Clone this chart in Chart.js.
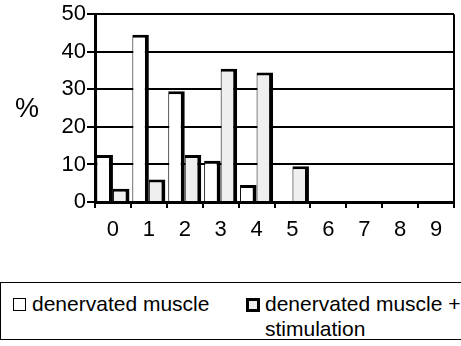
<!DOCTYPE html>
<html>
<head>
<meta charset="utf-8">
<script src="https://cdn.jsdelivr.net/npm/chart.js@4/dist/chart.umd.min.js"></script>
<style>
  html,body{margin:0;padding:0;background:#fff;}
  body{width:461px;height:346px;position:relative;overflow:hidden;font-family:"Liberation Sans",Arial,sans-serif;color:#000;}
  #chart{position:absolute;left:0;top:0;}
  #ylab{position:absolute;left:15px;top:93px;font-size:27px;line-height:30px;}
  .legend{position:absolute;left:0;top:282px;width:463px;height:58px;border:1.5px solid #000;box-sizing:border-box;font-size:21px;}
  .item{position:absolute;top:10px;line-height:25px;}
  .box{position:absolute;left:0;top:5px;width:11px;height:11px;border:1.5px solid #000;background:#fff;}
  .box.b2{border:3px solid #000;width:8px;height:8px;background:#eee;}
  .txt{position:absolute;left:19px;top:-2px;white-space:nowrap;}
</style>
</head>
<body>
<canvas id="chart" width="461" height="280"></canvas>
<div id="ylab">%</div>
<div class="legend">
  <div class="item" style="left:12px"><span class="box"></span><span class="txt">denervated muscle</span></div>
  <div class="item" style="left:245px"><span class="box b2"></span><span class="txt">denervated muscle +<br>stimulation</span></div>
</div>
<script>
/* DATA */
const categories = ['0','1','2','3','4','5','6','7','8','9'];
const denervated = [12.5, 44.5, 29.5, 11, 4.5, 0, 0, 0, 0, 0];
const stimulated = [3.5, 6, 12.5, 35.5, 34.5, 9.5, 0, 0, 0, 0];
const yTicks = [0, 10, 20, 30, 40, 50];

const FONT = {family:'"Liberation Sans", Arial, sans-serif', size:22};

/* right edge of the plot frame */
const frame = {
  id:'frame',
  afterDraw(chart){
    const a = chart.chartArea, c = chart.ctx;
    c.save();
    c.strokeStyle = '#000';
    c.lineWidth = 2;
    c.beginPath();
    c.moveTo(a.right, a.top);
    c.lineTo(a.right, a.bottom);
    c.stroke();
    c.restore();
  }
};

const barBorder = {left:1, top:3, right:4, bottom:0};

new Chart(document.getElementById('chart'), {
  type:'bar',
  data:{
    labels:categories,
    datasets:[
      {label:'denervated muscle', data:denervated, backgroundColor:'#fff', borderColor:'#000', borderWidth:barBorder, borderSkipped:false},
      {label:'denervated muscle + stimulation', data:stimulated, backgroundColor:'#efefef', borderColor:'#000', borderWidth:barBorder, borderSkipped:false}
    ]
  },
  options:{
    responsive:false,
    devicePixelRatio:1,
    animation:false,
    categoryPercentage:0.92,
    barPercentage:1,
    layout:{padding:{top:14, right:7, left:0, bottom:0}},
    plugins:{legend:{display:false}, tooltip:{enabled:false}},
    scales:{
      x:{
        offset:true,
        grid:{drawOnChartArea:false, color:'#000', lineWidth:2, tickLength:6, offset:true},
        border:{display:true, color:'#000', width:3},
        ticks:{font:FONT, color:'#000', padding:9},
        afterFit(s){ s.height = 78; }
      },
      y:{
        min:0, max:50,
        afterBuildTicks(s){ s.ticks = yTicks.map(v=>({value:v})); },
        grid:{color:'#000', lineWidth:2, tickLength:8},
        border:{display:true, color:'#000', width:3},
        ticks:{font:FONT, color:'#000', padding:1},
        afterFit(s){ s.width = 95; }
      }
    }
  },
  plugins:[frame]
});
</script>
</body>
</html>
